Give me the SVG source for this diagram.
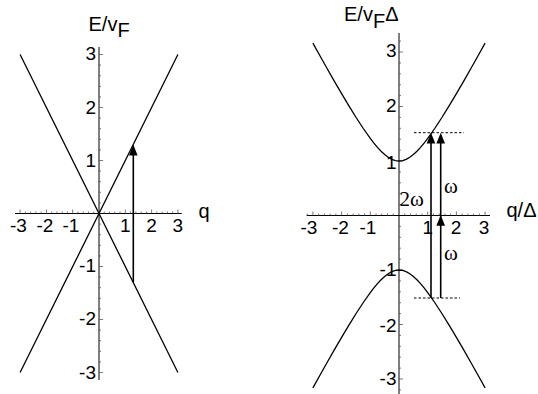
<svg xmlns="http://www.w3.org/2000/svg" width="538" height="394" viewBox="0 0 538 394">
<style>
.ax{stroke:#000;stroke-width:1;fill:none}
.tk{stroke:#555;stroke-width:0.8;fill:none}
.cv{stroke:#000;stroke-width:1.3;fill:none}
.ar{stroke:#000;stroke-width:1.6;fill:none}
.ds{stroke:#000;stroke-width:1;stroke-dasharray:2.5,2;fill:none}
.num{font-family:"Liberation Sans",Arial,sans-serif;font-size:19px;fill:#000}
.ttl{font-family:"Liberation Sans",Arial,sans-serif;font-size:20px;fill:#000}
.gr{font-family:"Liberation Serif","Times New Roman",serif;font-size:21px;fill:#000}
.ml{text-anchor:middle}
.en{text-anchor:end}
</style>
<defs>
<path id="ah" d="M0,0 L-4.3,10.8 L4.3,10.8 Z" fill="#000"/>
</defs>
<rect width="538" height="394" fill="#fff"/>

<g id="left-plot">
<g id="left-axes">
<path class="ax" d="M15,213.5 H181.7 M99,47 V380"/>
<path class="tk" d="M99,202.9h2M99,192.3h2M99,181.7h2M99,171.1h2M99,160.5h4M99,149.9h2M99,139.3h2M99,128.7h2M99,118.1h2M99,107.5h4M99,96.9h2M99,86.3h2M99,75.7h2M99,65.1h2M99,54.5h4M99,224.1h2M99,234.7h2M99,245.3h2M99,255.9h2M99,266.5h4M99,277.1h2M99,287.7h2M99,298.3h2M99,308.9h2M99,319.5h4M99,330.1h2M99,340.7h2M99,351.3h2M99,361.9h2M99,372.5h4"/>
<path class="tk" d="M104.26,213.5v-2M109.52,213.5v-2M114.78,213.5v-2M120.04,213.5v-2M125.3,213.5v-4M130.56,213.5v-2M135.82,213.5v-2M141.08,213.5v-2M146.34,213.5v-2M151.6,213.5v-4M156.86,213.5v-2M162.12,213.5v-2M167.38,213.5v-2M172.64,213.5v-2M177.9,213.5v-4M93.74,213.5v-2M88.48,213.5v-2M83.22,213.5v-2M77.96,213.5v-2M72.7,213.5v-4M67.44,213.5v-2M62.18,213.5v-2M56.92,213.5v-2M51.66,213.5v-2M46.4,213.5v-4M41.14,213.5v-2M35.88,213.5v-2M30.62,213.5v-2M25.36,213.5v-2M20.1,213.5v-4"/>
</g>
<g id="left-labels">
<text class="ttl" x="88.5" y="31">E/v<tspan dy="6">F</tspan></text>
<text class="ttl" x="198.5" y="218">q</text>
<text class="num en" x="96" y="60">3</text>
<text class="num en" x="96" y="114">2</text>
<text class="num en" x="96" y="167">1</text>
<text class="num en" x="96" y="272">-1</text>
<text class="num en" x="96" y="325">-2</text>
<text class="num en" x="96" y="378.5">-3</text>
<text class="num ml" x="18.5" y="232">-3</text>
<text class="num ml" x="45" y="232">-2</text>
<text class="num ml" x="71" y="232">-1</text>
<text class="num ml" x="125.3" y="232">1</text>
<text class="num ml" x="151.5" y="232">2</text>
<text class="num ml" x="177.7" y="232">3</text>
</g>
<g id="left-curves">
<path class="cv" d="M20.1,54.5 L177.9,372.5 M177.9,54.5 L20.1,372.5"/>
</g>
<g id="left-arrow">
<path class="ar" d="M133.3,282.4 V154"/>
<use href="#ah" x="133.3" y="144.6"/>
</g>
</g>

<g id="right-plot">
<g id="right-axes">
<path class="ax" d="M306.7,215.5 H490 M399,33 V394"/>
<path class="tk" d="M399,204.6h2M399,193.7h2M399,182.8h2M399,171.9h2M399,161h4M399,150.1h2M399,139.2h2M399,128.3h2M399,117.4h2M399,106.5h4M399,95.6h2M399,84.7h2M399,73.8h2M399,62.9h2M399,52h4M399,41.1h2M399,226.4h2M399,237.3h2M399,248.2h2M399,259.1h2M399,270h4M399,280.9h2M399,291.8h2M399,302.7h2M399,313.6h2M399,324.5h4M399,335.4h2M399,346.3h2M399,357.2h2M399,368.1h2M399,379h4M399,389.9h2"/>
<path class="tk" d="M404.74,215.5v-2M410.48,215.5v-2M416.22,215.5v-2M421.96,215.5v-2M427.7,215.5v-4M433.44,215.5v-2M439.18,215.5v-2M444.92,215.5v-2M450.66,215.5v-2M456.4,215.5v-4M462.14,215.5v-2M467.88,215.5v-2M473.62,215.5v-2M479.36,215.5v-2M485.1,215.5v-4M393.26,215.5v-2M387.52,215.5v-2M381.78,215.5v-2M376.04,215.5v-2M370.3,215.5v-4M364.56,215.5v-2M358.82,215.5v-2M353.08,215.5v-2M347.34,215.5v-2M341.6,215.5v-4M335.86,215.5v-2M330.12,215.5v-2M324.38,215.5v-2M318.64,215.5v-2M312.9,215.5v-4M307.16,215.5v-2"/>
</g>
<g id="right-labels">
<text class="ttl" x="344" y="20.5">E/v<tspan dy="7">F</tspan><tspan dy="-7">Δ</tspan></text>
<text class="ttl" x="506.5" y="217">q/Δ</text>
<text class="num en" x="396.5" y="57">3</text>
<text class="num en" x="396.5" y="112">2</text>
<text class="num en" x="396.5" y="168.5">1</text>
<text class="num en" x="396.5" y="276">-1</text>
<text class="num en" x="396.5" y="332">-2</text>
<text class="num en" x="396.5" y="385">-3</text>
<text class="num ml" x="309" y="234">-3</text>
<text class="num ml" x="340.5" y="234">-2</text>
<text class="num ml" x="368" y="234">-1</text>
<text class="num ml" x="427.7" y="234">1</text>
<text class="num ml" x="456" y="234">2</text>
<text class="num ml" x="484" y="234">3</text>
<text class="gr" x="399.5" y="205.5">2ω</text>
<text class="gr" x="444" y="193">ω</text>
<text class="gr" x="444" y="259.5">ω</text>
</g>
<g id="right-curves">
<polyline class="cv" points="312.9,43.15 320.08,56.02 327.25,68.75 334.43,81.31 341.6,93.63 348.78,105.65 355.950,117.25 363.13,128.26 370.3,138.43 373.89,143.08 377.48,147.37 381.06,151.23 384.65,154.57 388.24,157.29 391.83,159.32 395.41,160.58 399,161 402.59,160.58 406.18,159.32 409.76,157.29 413.35,154.57 416.94,151.23 420.53,147.37 424.11,143.08 427.7,138.43 434.88,128.26 442.05,117.25 449.23,105.65 456.4,93.63 463.58,81.31 470.75,68.75 477.93,56.02 485.1,43.15"/>
<polyline class="cv" points="312.9,387.85 320.08,374.98 327.25,362.25 334.43,349.69 341.6,337.37 348.78,325.35 355.95,313.75 363.13,302.74 370.3,292.57 373.89,287.92 377.48,283.63 381.06,279.77 384.65,276.43 388.24,273.71 391.83,271.68 395.41,270.42 399,270 402.59,270.42 406.18,271.68 409.76,273.71 413.35,276.43 416.94,279.77 420.53,283.63 424.11,287.92 427.7,292.57 434.88,302.74 442.05,313.75 449.23,325.35 456.4,337.37 463.58,349.69 470.75,362.25 477.93,374.98 485.1,387.85"/>
</g>
<g id="right-dashes">
<path class="ds" d="M414,132.7 H464 M414,298 H460"/>
</g>
<g id="right-arrows">
<path class="ar" d="M431,298 V142"/>
<use href="#ah" x="431" y="132.7"/>
<path class="ar" d="M440.7,298 V142"/>
<use href="#ah" x="440.7" y="132.7"/>
<use href="#ah" x="440.7" y="215"/>
</g>
</g>
</svg>
